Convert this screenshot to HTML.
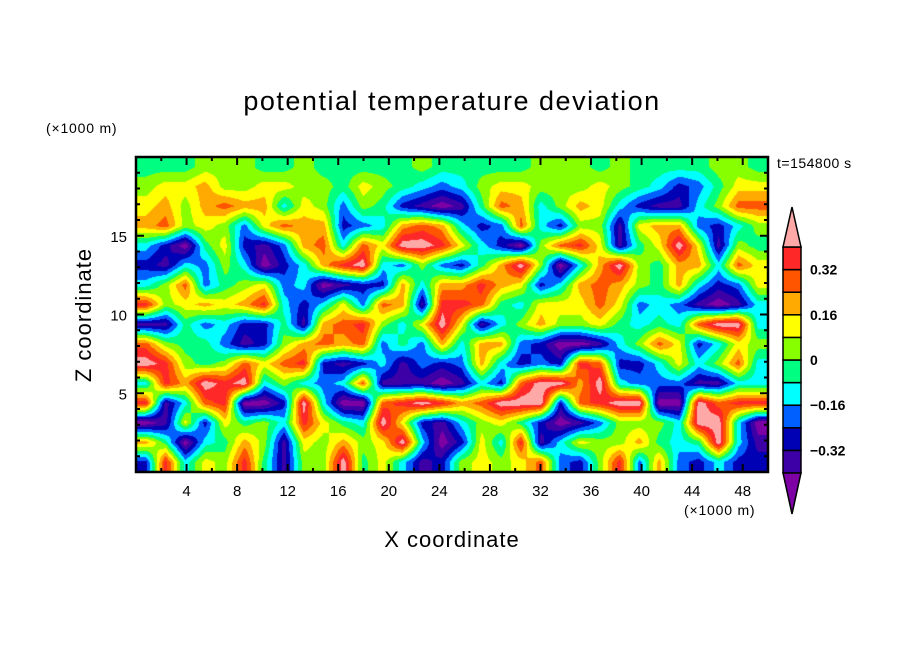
<!DOCTYPE html>
<html><head><meta charset="utf-8"><style>
body{margin:0;background:#fff;width:904px;height:654px;overflow:hidden;position:relative;font-family:"Liberation Sans",sans-serif}
.t{position:absolute;color:#000;white-space:nowrap}
</style></head><body>
<div class="t" style="left:0;width:904px;top:86px;text-align:center;font-size:27px;letter-spacing:1.5px">potential temperature deviation</div>
<div class="t" style="left:46px;top:120px;font-size:14px;letter-spacing:0.8px">(×1000 m)</div>
<div class="t" style="left:777px;top:155px;font-size:14px;letter-spacing:0.5px">t=154800 s</div>
<div class="t" style="left:84px;top:315px;font-size:22px;transform:translate(-50%,-50%) rotate(-90deg);letter-spacing:1px">Z coordinate</div>
<div class="t" style="left:452px;top:540px;font-size:22px;transform:translate(-50%,-50%);letter-spacing:1px">X coordinate</div>
<div class="t" style="left:684px;top:502px;font-size:14px;letter-spacing:0.8px">(×1000 m)</div>
<canvas id="cv" width="632" height="315" style="position:absolute;left:136px;top:157px"></canvas>
<svg id="sv" width="904" height="654" style="position:absolute;left:0;top:0"></svg>
<script>
const codes={P:-0.46,V:-0.36,B:-0.28,b:-0.2,c:-0.12,g:-0.04,l:0.04,y:0.12,o:0.2,r:0.28,R:0.36,K:0.46};
const row0 =["g","g","g","l","l","l","g","g","l","g","g","g","g","g","l","g","g","g","g","g","l","l","l","g","l","g","g","g","g","l","l","g"];
const row1 =["l","y","y","o","l","l","y","y","l","l","g","y","l","g","c","b","c","l","y","y","l","l","l","y","l","g","c","B","b","g","y","y"];
const row2 =["y","o","l","o","r","o","o","c","y","l","b","l","g","B","V","P","V","g","r","o","c","l","o","y","c","B","V","V","c","l","r","r"];
const row3 =["o","r","l","y","l","b","y","r","o","o","B","b","c","o","r","o","c","B","b","r","c","B","l","l","V","y","o","o","b","B","c","l"];
const row4 =["c","B","P","g","y","B","V","b","o","r","c","r","y","K","K","R","y","c","B","P","l","r","R","y","V","g","y","K","y","V","l","g"];
const row5 =["B","V","c","b","l","c","P","B","c","o","R","K","c","b","l","b","B","g","o","K","l","P","c","o","K","l","g","o","o","c","r","y"];
const row6 =["c","l","r","b","g","l","y","b","c","P","V","B","B","o","c","o","o","R","o","y","B","c","o","r","o","l","g","o","c","B","b","y"];
const row7 =["R","l","y","o","y","o","R","c","B","c","y","b","r","o","V","R","R","r","g","c","y","y","y","r","y","b","c","b","V","P","V","c"];
const row8 =["V","V","g","b","c","B","B","g","V","o","r","R","l","c","y","K","y","V","c","l","o","l","l","y","g","c","g","c","r","K","K","c"];
const row9 =["r","l","g","g","b","V","B","l","o","r","o","r","b","g","b","o","c","o","o","b","B","P","P","V","c","l","r","y","B","c","y","l"];
const row10=["K","R","l","g","l","r","y","r","R","B","V","B","c","V","b","B","b","o","c","B","b","B","R","r","B","B","c","y","c","l","r","c"];
const row11=["c","R","o","K","R","K","c","l","c","b","c","r","V","V","V","P","V","c","B","r","K","K","o","K","c","b","b","b","V","V","c","c"];
const row12=["R","V","c","r","R","P","P","B","K","c","P","P","r","R","K","R","o","r","K","K","K","B","r","R","K","K","P","P","K","r","R","R"];
const row13=["P","V","y","B","y","g","l","c","R","y","g","c","K","y","B","V","c","l","y","g","B","P","V","b","l","l","l","c","K","K","c","P"];
const row14=["o","g","P","c","g","o","l","V","y","l","o","l","y","K","c","P","B","y","c","R","V","c","y","l","l","o","g","c","g","K","c","V"];
const row15=["B","R","c","y","l","R","g","V","l","l","K","g","y","c","V","B","l","y","l","y","r","b","B","l","R","b","o","b","B","c","B","B"];
const gridData=[row0,row1,row2,row3,row4,row5,row6,row7,row8,row9,row10,row11,row12,row13,row14,row15].map(r=>r.map(c=>codes[c]));
const levels=[-0.40,-0.32,-0.24,-0.16,-0.08,0,0.08,0.16,0.24,0.32,0.40];
const bandColors=["#7c00a4","#3c00a6","#0000b4","#0060ff","#00ffff","#00ff80","#88ff00","#ffff00","#ffaa00","#ff5500","#ff2828","#ffa8a8"];
const xTicks=[4,8,12,16,20,24,28,32,36,40,44,48];
const yTicks=[5,10,15];
const cbLabels=[0.32,0.16,0,-0.16,-0.32];

const X0=136,X1=768,Y0=157,Y1=472,XMAX=50,ZMAX=20;
const sx=v=>X0+(v/XMAX)*(X1-X0);
const sy=v=>Y1-(v/ZMAX)*(Y1-Y0);
function band(v){let i=0;while(i<levels.length&&v>=levels[i])i++;return i;}
function hex(h){return [parseInt(h.substr(1,2),16),parseInt(h.substr(3,2),16),parseInt(h.substr(5,2),16)];}
const rgb=bandColors.map(hex);
const cv=document.getElementById('cv'),ctx=cv.getContext('2d');
const W=cv.width,H=cv.height,img=ctx.createImageData(W,H);
const nr=gridData.length,nc=gridData[0].length;
for(let py=0;py<H;py++){
  let gy=(py+0.5)/H*nr-0.5;gy=Math.max(0,Math.min(nr-1,gy));
  const r0=Math.floor(gy),r1=Math.min(nr-1,r0+1),fy=gy-r0;
  for(let px=0;px<W;px++){
    let gx=(px+0.5)/W*nc-0.5;gx=Math.max(0,Math.min(nc-1,gx));
    const c0=Math.floor(gx),c1=Math.min(nc-1,c0+1),fx=gx-c0;
    const v=(gridData[r0][c0]*(1-fx)+gridData[r0][c1]*fx)*(1-fy)+(gridData[r1][c0]*(1-fx)+gridData[r1][c1]*fx)*fy;
    const col=rgb[band(v)],k=(py*W+px)*4;
    img.data[k]=col[0];img.data[k+1]=col[1];img.data[k+2]=col[2];img.data[k+3]=255;
  }
}
ctx.putImageData(img,0,0);
const NS='http://www.w3.org/2000/svg',sv=document.getElementById('sv');
function mk(tag,a){const e=document.createElementNS(NS,tag);for(const k in a)e.setAttribute(k,a[k]);sv.appendChild(e);return e;}
let fr=mk('rect',{x:X0,y:Y0,width:X1-X0,height:Y1-Y0,fill:'none',stroke:'#000','stroke-width':2.5});


for(let v=2;v<XMAX;v+=2){
  const L=(v%4===0)?8:4,x=sx(v);
  mk('line',{x1:x,y1:Y1,x2:x,y2:Y1-L,stroke:'#000','stroke-width':2});
  mk('line',{x1:x,y1:Y0,x2:x,y2:Y0+L,stroke:'#000','stroke-width':2});
}
for(let v=1;v<ZMAX;v++){
  const L=(v%5===0)?8:4,y=sy(v);
  mk('line',{x1:X0,y1:y,x2:X0+L,y2:y,stroke:'#000','stroke-width':2});
  mk('line',{x1:X1,y1:y,x2:X1-L,y2:y,stroke:'#000','stroke-width':2});
}
xTicks.forEach(v=>{
  const t=mk('text',{x:sx(v),y:496,'text-anchor':'middle','font-size':15,'font-family':'Liberation Sans, sans-serif'});
  t.textContent=v;
  
  
});
yTicks.forEach(v=>{
  const t=mk('text',{x:127,y:sy(v)+6,'text-anchor':'end','font-size':15,'font-family':'Liberation Sans, sans-serif'});
  t.textContent=v;
  
  
});
const CX0=783,CX1=801,CT=247,CB=473;
const cy=v=>CB-(v-levels[0])/(levels[levels.length-1]-levels[0])*(CB-CT);
for(let i=1;i<levels.length;i++){
  const r=mk('rect',{x:CX0,y:cy(levels[i]),width:CX1-CX0,height:cy(levels[i-1])-cy(levels[i]),fill:bandColors[i],stroke:'#000','stroke-width':1.5});
  
  
}
let tt=mk('polygon',{points:`${CX0},${CT} ${CX1},${CT} ${(CX0+CX1)/2},207`,fill:bandColors[11],stroke:'#000','stroke-width':1.5});


let tb=mk('polygon',{points:`${CX0},${CB} ${CX1},${CB} ${(CX0+CX1)/2},514`,fill:bandColors[0],stroke:'#000','stroke-width':1.5});


cbLabels.forEach(v=>{
  const t=mk('text',{x:810,y:cy(v)+5,'font-size':14,'font-weight':'bold','font-family':'Liberation Sans, sans-serif'});
  t.textContent=v===0?'0':(v<0?'\u2212'+Math.abs(v).toFixed(2):v.toFixed(2));
  
  
});
</script>
</body></html>
